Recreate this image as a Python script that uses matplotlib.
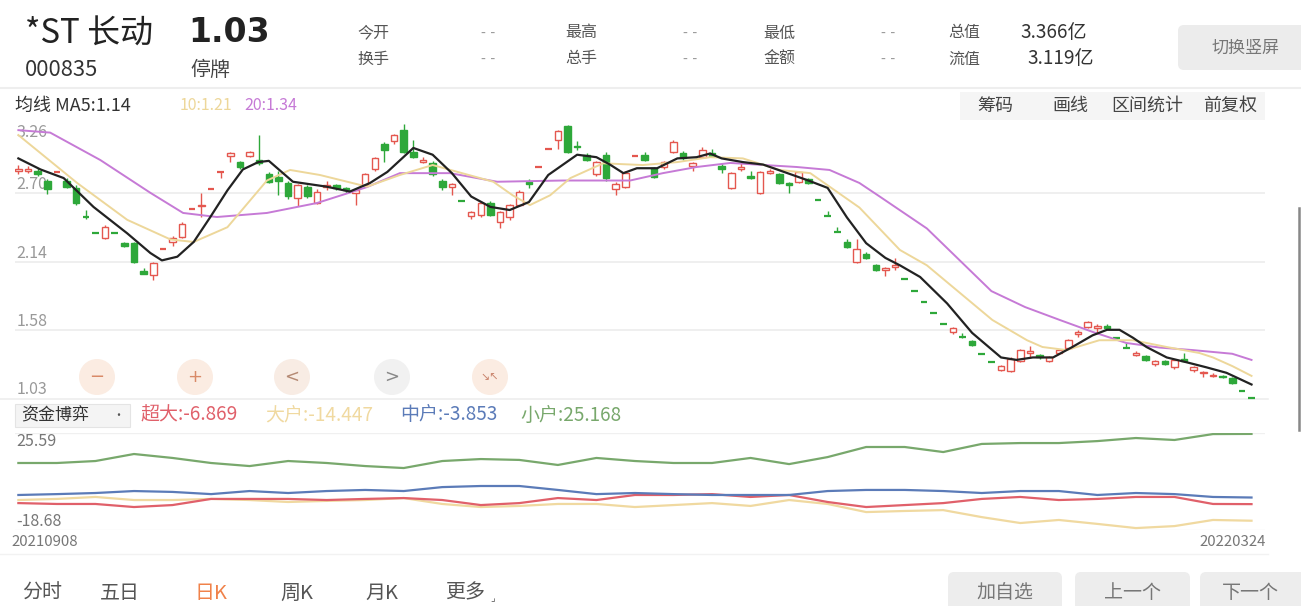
import matplotlib
matplotlib.use("Agg")
import matplotlib.pyplot as plt
from matplotlib.patches import Rectangle, Circle, FancyBboxPatch

plt.rcParams['font.family'] = ['Noto Sans CJK SC', 'DejaVu Sans']

# ---- daily candles 20210908 .. 20220324 ----
opens = [2.88, 2.88, 2.88, 2.80, 2.87, 2.80, 2.74, 2.50, 2.37, 2.33,
         2.37, 2.29, 2.29, 2.06, 2.03, 2.24, 2.30, 2.34, 2.57, 2.59,
         2.73, 2.87, 3.00, 2.95, 3.00, 2.97, 2.85, 2.83, 2.78, 2.66,
         2.75, 2.62, 2.75, 2.76, 2.74, 2.70, 2.76, 2.89, 3.10, 3.12,
         3.21, 3.03, 2.95, 2.94, 2.80, 2.75, 2.63, 2.51, 2.52, 2.62,
         2.46, 2.50, 2.60, 2.79, 2.91, 3.06, 3.13, 3.24, 3.08, 3.01,
         2.85, 3.01, 2.73, 2.75, 3.00, 3.01, 2.90, 2.91, 3.03, 3.02,
         2.92, 2.99, 3.02, 2.92, 2.74, 2.89, 2.84, 2.70, 2.86, 2.85,
         2.78, 2.79, 2.81, 2.64, 2.51, 2.38, 2.30, 2.14, 2.20, 2.11,
         2.07, 2.10, 2.00, 1.90, 1.81, 1.72, 1.63, 1.57, 1.53, 1.49,
         1.39, 1.32, 1.26, 1.25, 1.33, 1.40, 1.38, 1.33, 1.40, 1.44,
         1.55, 1.61, 1.60, 1.62, 1.52, 1.44, 1.38, 1.37, 1.31, 1.33,
         1.28, 1.35, 1.26, 1.23, 1.21, 1.21, 1.19, 1.09, 1.03]
closes = [2.89, 2.89, 2.85, 2.73, 2.87, 2.75, 2.62, 2.50, 2.37, 2.42,
          2.37, 2.27, 2.14, 2.04, 2.13, 2.24, 2.33, 2.45, 2.57, 2.60,
          2.73, 2.87, 3.02, 2.91, 3.03, 2.94, 2.79, 2.80, 2.67, 2.76,
          2.67, 2.71, 2.76, 2.74, 2.72, 2.72, 2.85, 2.98, 3.05, 3.17,
          3.03, 2.99, 2.97, 2.85, 2.75, 2.77, 2.63, 2.54, 2.62, 2.52,
          2.54, 2.60, 2.71, 2.77, 2.91, 3.06, 3.20, 3.03, 3.07, 2.97,
          2.95, 2.82, 2.77, 2.86, 3.00, 2.97, 2.83, 2.95, 3.11, 2.98,
          2.94, 3.05, 3.00, 2.89, 2.86, 2.91, 2.82, 2.87, 2.88, 2.78,
          2.76, 2.87, 2.78, 2.64, 2.51, 2.38, 2.26, 2.24, 2.17, 2.07,
          2.09, 2.11, 2.00, 1.90, 1.81, 1.72, 1.63, 1.60, 1.53, 1.46,
          1.39, 1.32, 1.29, 1.35, 1.42, 1.41, 1.36, 1.36, 1.42, 1.50,
          1.57, 1.65, 1.62, 1.60, 1.52, 1.44, 1.40, 1.34, 1.33, 1.31,
          1.34, 1.33, 1.28, 1.24, 1.22, 1.20, 1.15, 1.09, 1.03]
highs = [2.93, 2.92, 2.90, 2.81, 2.87, 2.82, 2.76, 2.56, 2.37, 2.44,
         2.37, 2.30, 2.30, 2.09, 2.14, 2.24, 2.35, 2.46, 2.57, 2.70,
         2.73, 2.87, 3.03, 2.96, 3.04, 3.17, 2.87, 2.88, 2.80, 2.77,
         2.76, 2.73, 2.80, 2.77, 2.75, 2.73, 2.86, 2.99, 3.11, 3.18,
         3.26, 3.13, 2.99, 2.96, 2.81, 2.78, 2.63, 2.55, 2.63, 2.63,
         2.55, 2.61, 2.72, 2.81, 2.91, 3.06, 3.21, 3.25, 3.12, 3.02,
         2.96, 3.03, 2.79, 2.88, 3.00, 3.03, 2.91, 2.96, 3.13, 3.04,
         2.95, 3.07, 3.06, 2.94, 2.87, 2.94, 2.88, 2.88, 2.89, 2.86,
         2.79, 2.88, 2.82, 2.64, 2.55, 2.42, 2.32, 2.32, 2.22, 2.12,
         2.10, 2.17, 2.00, 1.90, 1.81, 1.72, 1.63, 1.61, 1.56, 1.50,
         1.39, 1.32, 1.30, 1.36, 1.43, 1.45, 1.39, 1.37, 1.43, 1.51,
         1.58, 1.66, 1.63, 1.63, 1.52, 1.48, 1.41, 1.38, 1.34, 1.34,
         1.35, 1.40, 1.29, 1.25, 1.23, 1.22, 1.20, 1.09, 1.03]
lows = [2.85, 2.86, 2.84, 2.69, 2.87, 2.74, 2.60, 2.49, 2.37, 2.32,
        2.37, 2.26, 2.13, 2.04, 1.99, 2.24, 2.27, 2.33, 2.57, 2.50,
        2.73, 2.82, 2.95, 2.89, 2.99, 2.93, 2.78, 2.68, 2.65, 2.59,
        2.66, 2.61, 2.72, 2.72, 2.70, 2.60, 2.75, 2.88, 2.95, 3.10,
        3.02, 2.98, 2.94, 2.84, 2.72, 2.68, 2.63, 2.49, 2.50, 2.51,
        2.41, 2.48, 2.59, 2.74, 2.91, 3.06, 3.06, 3.02, 3.05, 2.96,
        2.84, 2.80, 2.68, 2.74, 3.00, 2.96, 2.82, 2.89, 3.02, 2.97,
        2.88, 2.98, 2.99, 2.86, 2.73, 2.88, 2.81, 2.69, 2.85, 2.77,
        2.70, 2.78, 2.77, 2.64, 2.51, 2.38, 2.25, 2.13, 2.16, 2.06,
        2.02, 2.07, 2.00, 1.90, 1.81, 1.72, 1.63, 1.55, 1.52, 1.45,
        1.39, 1.32, 1.25, 1.24, 1.32, 1.36, 1.35, 1.32, 1.39, 1.43,
        1.53, 1.60, 1.56, 1.59, 1.52, 1.44, 1.37, 1.33, 1.29, 1.30,
        1.27, 1.32, 1.24, 1.20, 1.20, 1.19, 1.14, 1.09, 1.03]

# moving averages (day index, value)
ma5_i = [0, 2.3, 4.7, 7.8, 11.3, 13.7, 14.9, 16.5, 18.2, 19.9, 21.7, 23.3, 24.9, 26,
         28.5, 32, 34.4, 36.5, 38.3, 41, 43, 45, 47, 49, 51, 53, 55, 58, 60, 61.4,
         62.8, 64.2, 66.3, 68.4, 70.4, 71.8, 73, 75.2, 77.3, 82, 84, 86, 88, 90,
         91.5, 93.6, 96.4, 99, 102, 103.6, 105.3, 107.4, 109.4, 111.5, 113, 114.3,
         115.7, 117.1, 119.2, 121.3, 123.3, 125.4, 128]
ma5_v = [2.98, 2.89, 2.82, 2.585, 2.37, 2.21, 2.15, 2.18, 2.30, 2.50, 2.72, 2.89, 2.95, 2.96,
         2.79, 2.75, 2.71, 2.78, 2.87, 3.065, 3.01, 2.86, 2.67, 2.585, 2.56, 2.625, 2.845, 3.01, 2.99, 2.93,
         2.86, 2.90, 2.90, 2.98, 2.99, 3.02, 2.98, 2.95, 2.93, 2.80, 2.74, 2.50, 2.29, 2.17,
         2.11, 2.015, 1.80, 1.56, 1.36, 1.34, 1.36, 1.36, 1.445, 1.54, 1.585, 1.585,
         1.52, 1.445, 1.36, 1.32, 1.28, 1.235, 1.14]
ma10_i = [0, 6.1, 11.3, 15.8, 18.2, 21.7, 25.8, 28.2, 31.3, 36.2, 39.6, 43, 49.3, 51.3,
          53.1, 55.2, 57.3, 60.7, 64.8, 68.4, 71.8, 75.2, 79, 82.2, 87.3, 91.5, 94.3,
          101.1, 104.7, 106.3, 108.8, 112.2, 115.7, 119.2, 122.6, 124, 126, 128]
ma10_v = [3.17, 2.78, 2.48, 2.32, 2.30, 2.42, 2.80, 2.886, 2.845, 2.75, 2.845, 2.926, 2.79, 2.68,
          2.60, 2.68, 2.82, 2.94, 2.926, 2.95, 2.99, 2.98, 2.886, 2.86, 2.58, 2.235, 2.11,
          1.665, 1.50, 1.445, 1.42, 1.50, 1.50, 1.445, 1.396, 1.36, 1.29, 1.21]
ma20_i = [0, 3.3, 8.5, 13.7, 17.1, 20.6, 25.8, 31, 36.2, 39.6, 44.8, 49.7, 56.5, 63.5,
          66.9, 70.4, 73.9, 80.8, 84.2, 87.3, 89.4, 94.3, 101, 104.5, 108.1, 111.5, 115,
          118.5, 121.9, 126, 128]
ma20_v = [3.21, 3.19, 2.967, 2.70, 2.536, 2.503, 2.536, 2.617, 2.747, 2.86, 2.86, 2.79, 2.80, 2.80,
          2.86, 2.91, 2.943, 2.91, 2.886, 2.78, 2.67, 2.41, 1.90, 1.77, 1.665, 1.568, 1.478,
          1.44, 1.42, 1.39, 1.34]

price_ticks = [3.26, 2.70, 2.14, 1.58, 1.03]

# ---- fund flow (资金博弈), sampled every 4 trading days ----
flow_days = list(range(0, 129, 4))
flow_small = [11.9, 11.9, 12.8, 16.0, 14.2, 11.9, 10.5, 12.8, 11.9, 10.5, 9.6, 12.8, 13.7,
              13.3, 11.0, 14.2, 12.8, 11.9, 11.9, 14.2, 11.4, 14.6, 19.2, 19.2, 16.9, 20.6,
              21.0, 21.0, 21.9, 23.3, 22.4, 25.1, 25.168]
flow_mid = [-2.7, -2.3, -1.8, -0.9, -1.3, -2.3, -0.9, -1.8, -0.9, -0.4, -0.9, 0.9, 1.4,
            1.4, -0.4, -2.3, -1.8, -2.3, -2.7, -2.7, -2.7, -0.9, -0.4, -0.4, -0.9, -1.8,
            -0.9, -0.9, -2.7, -1.8, -2.3, -3.6, -3.853]
flow_super = [-6.4, -6.8, -6.8, -8.2, -7.3, -4.5, -4.5, -4.5, -5.0, -4.5, -4.1, -5.0, -7.3,
              -6.4, -4.1, -5.0, -2.7, -2.7, -2.3, -3.6, -2.7, -5.9, -8.2, -7.3, -6.4, -4.5,
              -3.6, -5.0, -4.5, -3.6, -3.6, -6.8, -6.869]
flow_big = [-5.0, -4.5, -3.6, -5.0, -5.0, -4.5, -5.0, -5.9, -5.4, -5.0, -4.1, -6.8, -8.2,
            -7.7, -6.8, -6.8, -8.2, -7.3, -6.4, -7.7, -5.0, -6.8, -10.5, -10.0, -9.6, -12.8,
            -15.5, -14.1, -15.9, -17.8, -16.9, -14.1, -14.447]
flow_top, flow_bottom = 25.59, -18.68
first_date, last_date = "20210908", "20220324"

UP = "#e4574f"
DOWN = "#2ea83a"
C_MA5, C_MA10, C_MA20 = "#222222", "#edd79a", "#c67ad6"
C_SUPER, C_BIG, C_MID, C_SMALL = "#e0606a", "#f0d9a0", "#5b7bb8", "#78a86c"
GRAY = "#999999"

W, H = 1301, 606
fig = plt.figure(figsize=(W / 100, H / 100), dpi=100)


def px_axes(x0, y0, x1, y1):
    a = fig.add_axes([x0 / W, 1 - y1 / H, (x1 - x0) / W, (y1 - y0) / H])
    a.set_facecolor("none")
    for s in a.spines.values():
        s.set_visible(False)
    a.set_xticks([])
    a.set_yticks([])
    return a


def pt(px):
    return px * 0.72


# background layer in pixel coordinates
bg = px_axes(0, 0, W, H)
bg.set_xlim(0, W)
bg.set_ylim(H, 0)

# header
bg.text(25, 34, "*ST 长动", fontsize=pt(33), color="#222", va="center")
bg.text(188, 33, "1.03", fontsize=pt(33), color="#222", va="center", fontweight="bold",
        family="DejaVu Sans")
bg.text(25, 70, "000835", fontsize=pt(22), color="#333", va="center")
bg.text(190, 70, "停牌", fontsize=pt(20), color="#444", va="center")
row1 = [("今开", 357), ("最高", 565), ("最低", 763)]
row2 = [("换手", 357), ("总手", 565), ("金额", 763)]
for (t, x) in row1:
    bg.text(x, 33, t, fontsize=pt(16), color="#555", va="center")
for (t, x) in row2:
    bg.text(x, 59, t, fontsize=pt(16), color="#555", va="center")
for x in [488, 690, 888]:
    for y in [33, 59]:
        bg.text(x, y, "- -", fontsize=pt(14), color="#999", va="center", ha="center",
                family="DejaVu Sans")
bg.text(948, 33, "总值", fontsize=pt(16), color="#555", va="center")
bg.text(1020, 33, "3.366亿", fontsize=pt(19), color="#333", va="center")
bg.text(948, 59, "流值", fontsize=pt(16), color="#555", va="center")
bg.text(1027, 59, "3.119亿", fontsize=pt(19), color="#333", va="center")
bg.add_patch(FancyBboxPatch((1178, 25), 130, 45, boxstyle="round,pad=0,rounding_size=6",
                            fc="#ececec", ec="none"))
bg.text(1245, 48, "切换竖屏", fontsize=pt(17), color="#777", va="center", ha="center")
bg.plot([0, W], [88, 88], color="#eeeeee", lw=1.5)

# MA legend row
bg.text(15, 106, "均线 MA5:%.2f" % ma5_v[-1], fontsize=pt(18), color="#333", va="center")
bg.text(180, 106, "10:%.2f" % ma10_v[-1], fontsize=pt(16), color=C_MA10, va="center")
bg.text(244, 106, "20:%.2f" % ma20_v[-1], fontsize=pt(16), color=C_MA20, va="center")
bg.add_patch(Rectangle((960, 92), 305, 28, fc="#f5f5f5", ec="none"))
for t, x in [("筹码", 995), ("画线", 1070), ("区间统计", 1147), ("前复权", 1230)]:
    bg.text(x, 106, t, fontsize=pt(18), color="#444", va="center", ha="center")

# zoom controls
ctrl = [("−", 97, "#fbece2", "#d98a68"), ("+", 195, "#fbece2", "#d98a68"),
        ("<", 292, "#f8ece4", "#b58a74"), (">", 392, "#f1f1f1", "#888888"),
        ("↘↖", 490, "#fbece2", "#c9826a")]
for t, x, fc, tc in ctrl:
    bg.add_patch(Circle((x, 377), 18, fc=fc, ec="none"))
    bg.text(x, 377, t, fontsize=pt(18) if len(t) == 1 else pt(11), color=tc,
            ha="center", va="center", family="DejaVu Sans")

# separators
bg.plot([0, 1268], [399, 399], color="#eeeeee", lw=1.2)
bg.add_patch(Rectangle((15, 404), 115, 23, fc="#f4f4f4", ec="#e4e4e4", lw=0.8))
bg.text(21, 415, "资金博弈", fontsize=pt(17), color="#333", va="center")
bg.text(118, 415, "•", fontsize=pt(12), color="#555", va="center", ha="center")
bg.text(140, 415, "超大:%.3f" % flow_super[-1], fontsize=pt(19), color=C_SUPER, va="center")
bg.text(265, 415, "大户:%.3f" % flow_big[-1], fontsize=pt(19), color=C_BIG, va="center")
bg.text(400, 415, "中户:%.3f" % flow_mid[-1], fontsize=pt(19), color=C_MID, va="center")
bg.text(520, 415, "小户:%.3f" % flow_small[-1], fontsize=pt(19), color=C_SMALL, va="center")
bg.text(11, 542, first_date, fontsize=pt(15), color="#777", va="center")
bg.text(1266, 542, last_date, fontsize=pt(15), color="#777", va="center", ha="right")
bg.plot([0, 1268], [554, 554], color="#f2f2f2", lw=1)
bg.plot([1299, 1299], [208, 430], color="#888", lw=1.8)

# bottom tabs and buttons
for t, x, c in [("分时", 22, "#555"), ("五日", 100, "#555"), ("日K", 195, "#f0824a"),
                ("周K", 280, "#555"), ("月K", 365, "#555"), ("更多", 445, "#555")]:
    bg.text(x, 593, t, fontsize=pt(20), color=c, va="center")
bg.text(490, 598, "⌟", fontsize=pt(10), color="#555", va="center", family="DejaVu Sans")
for t, x0, x1 in [("加自选", 948, 1062), ("上一个", 1075, 1190), ("下一个", 1200, 1315)]:
    bg.add_patch(FancyBboxPatch((x0, 572), x1 - x0, 40, boxstyle="round,pad=0,rounding_size=6",
                                fc="#ededed", ec="none"))
    bg.text((x0 + min(x1, 1301)) / 2, 593, t, fontsize=pt(19), color="#777",
            ha="center", va="center")

# ---- price panel ----
ax = px_axes(15, 124, 1265, 398)
ax.set_xlim(-0.35, 129.4)
ax.set_ylim(price_ticks[-1], price_ticks[0])
for v in price_ticks[1:-1]:
    ax.axhline(v, color="#ececec", lw=1.2, zorder=0)
for k, v in enumerate(price_ticks):
    ax.text(-0.2, v, "%.2f" % v, fontsize=pt(16), color=GRAY,
            va="top" if k == 0 else "bottom", ha="left", zorder=0)

bw = 0.68
for i in range(len(closes)):
    o, c, h, l = opens[i], closes[i], highs[i], lows[i]
    if c != o:
        up = c > o
    else:
        up = i == 0 or c >= closes[i - 1]
    col = UP if up else DOWN
    ax.vlines(i, l, h, color=col, lw=1, zorder=3, clip_on=False)
    if abs(c - o) < 0.005:
        ax.hlines(o, i - bw / 2, i + bw / 2, color=col, lw=1.6, zorder=4, clip_on=False)
    else:
        ax.bar(i, abs(c - o), bottom=min(o, c), width=bw,
               facecolor="white" if up else col, edgecolor=col, lw=1, zorder=4)

ax.plot(ma20_i, ma20_v, color=C_MA20, lw=1.4, zorder=5)
ax.plot(ma10_i, ma10_v, color=C_MA10, lw=1.4, zorder=5)
ax.plot(ma5_i, ma5_v, color=C_MA5, lw=1.6, zorder=6)

# ---- fund flow panel ----
fx = px_axes(15, 433, 1265, 530)
fx.set_xlim(-0.35, 129.4)
fx.set_ylim(flow_bottom, flow_top)
fx.axhline(flow_top, color="#f0f0f0", lw=1)
fx.axhline(flow_bottom, color="#f0f0f0", lw=1)
fx.text(-0.2, flow_top, "%.2f" % flow_top, fontsize=pt(16), color="#777", va="top")
fx.text(-0.2, flow_bottom, "%.2f" % flow_bottom, fontsize=pt(16), color="#777", va="bottom")
fx.plot(flow_days, flow_big, color=C_BIG, lw=1.6)
fx.plot(flow_days, flow_super, color=C_SUPER, lw=1.6)
fx.plot(flow_days, flow_mid, color=C_MID, lw=1.6)
fx.plot(flow_days, flow_small, color=C_SMALL, lw=1.6)

fig.savefig("out.png", dpi=100)
